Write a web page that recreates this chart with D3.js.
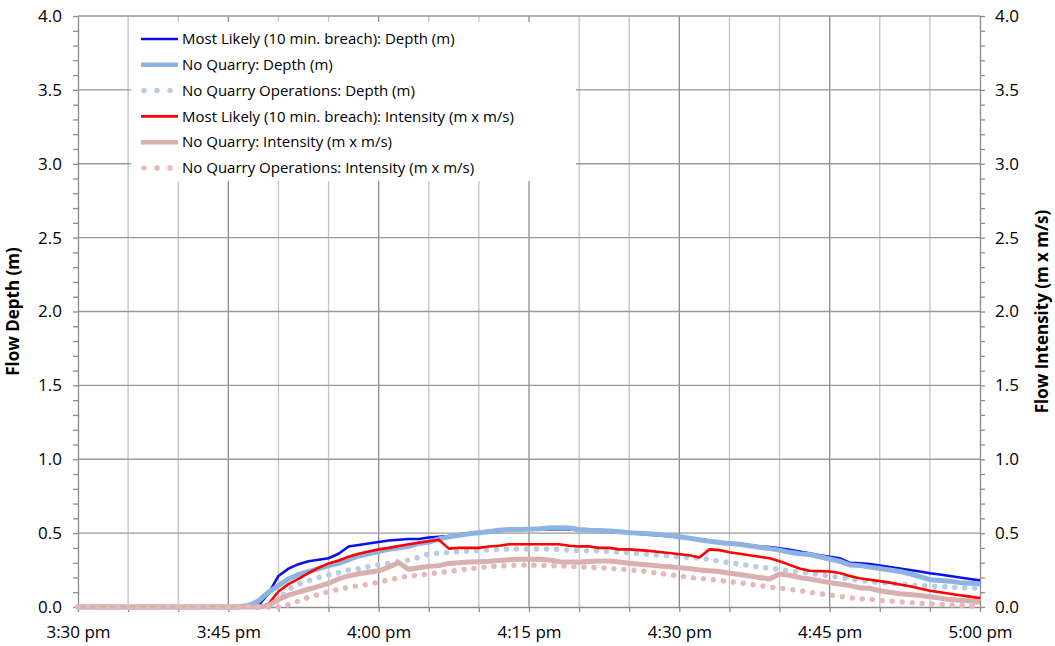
<!DOCTYPE html>
<html>
<head>
<meta charset="utf-8">
<script src="https://cdn.jsdelivr.net/npm/d3@7"></script>
<style>
  body { margin: 0; background: #fff; }
  svg text { font-family: "Open Sans", "Liberation Sans", sans-serif; fill: #000; }
  .grid line { stroke: #999; stroke-width: 1.3; }
  .vminor line { stroke: #c3c3c3; stroke-width: 1.3; }
  .vmajor line { stroke: #8c8c8c; stroke-width: 1.3; }
  .axis path, .axis line { stroke: #8c8c8c; stroke-width: 1.3; }
  .series { fill: none; stroke-linejoin: round; }
</style>
</head>
<body>
<div id="chart"></div>
<script>
// one value per minute, 3:30 pm (index 0) to 5:00 pm (index 90)
var mlDepth = [0,0,0,0,0,0,0,0,0,0, 0,0,0,0,0,0,0,0,0.01,0.09,
  0.21,0.26,0.29,0.31,0.32,0.33,0.36,0.41,0.42,0.43,
  0.44,0.45,0.455,0.46,0.46,0.47,0.475,0.48,0.49,0.50,
  0.505,0.515,0.52,0.525,0.525,0.525,0.525,0.525,0.525,0.525,
  0.52,0.52,0.515,0.51,0.505,0.50,0.495,0.49,0.485,0.48,
  0.475,0.465,0.46,0.45,0.44,0.435,0.43,0.42,0.41,0.405,
  0.397,0.387,0.375,0.363,0.35,0.34,0.33,0.30,0.295,0.29,
  0.28,0.27,0.26,0.25,0.24,0.228,0.22,0.21,0.20,0.19,0.18];
var nqDepth = [0,0,0,0,0,0,0,0,0,0, 0,0,0,0,0,0,0,0.01,0.04,0.10,
  0.145,0.19,0.22,0.24,0.26,0.28,0.295,0.32,0.345,0.36,
  0.375,0.39,0.40,0.41,0.43,0.44,0.46,0.475,0.485,0.495,
  0.503,0.51,0.52,0.525,0.525,0.527,0.53,0.535,0.537,0.535,
  0.525,0.52,0.518,0.515,0.51,0.503,0.50,0.495,0.49,0.483,
  0.475,0.465,0.455,0.445,0.437,0.43,0.425,0.415,0.405,0.395,
  0.385,0.37,0.36,0.355,0.34,0.325,0.31,0.285,0.28,0.27,
  0.26,0.25,0.24,0.225,0.205,0.185,0.18,0.175,0.165,0.16,0.155];
var nqoDepth = [0,0,0,0,0,0,0,0,0,0, 0,0,0,0,0,0,0,0,0,0,
  0.05,0.12,0.155,0.178,0.20,0.217,0.232,0.25,0.26,0.273,
  0.285,0.296,0.307,0.318,0.336,0.359,0.365,0.37,0.374,0.378,
  0.382,0.386,0.39,0.393,0.393,0.393,0.393,0.393,0.39,0.385,
  0.383,0.381,0.38,0.375,0.37,0.368,0.36,0.355,0.35,0.345,
  0.34,0.335,0.33,0.323,0.31,0.30,0.29,0.28,0.27,0.262,
  0.255,0.245,0.238,0.23,0.22,0.21,0.201,0.19,0.18,0.172,
  0.165,0.16,0.155,0.15,0.145,0.142,0.138,0.135,0.133,0.13,0.127];
var mlInt = [0,0,0,0,0,0,0,0,0,0, 0,0,0,0,0,0,0,0,0,0.02,
  0.105,0.155,0.19,0.23,0.265,0.295,0.315,0.34,0.36,0.375,
  0.39,0.40,0.413,0.425,0.435,0.445,0.455,0.395,0.40,0.40,
  0.40,0.41,0.415,0.425,0.425,0.425,0.425,0.425,0.425,0.415,
  0.41,0.41,0.40,0.40,0.39,0.39,0.385,0.38,0.372,0.365,
  0.357,0.35,0.335,0.39,0.385,0.37,0.36,0.35,0.34,0.33,
  0.31,0.285,0.26,0.245,0.243,0.24,0.23,0.21,0.195,0.185,
  0.175,0.165,0.152,0.14,0.125,0.11,0.10,0.09,0.08,0.07,0.06];
var nqInt = [0,0,0,0,0,0,0,0,0,0, 0,0,0,0,0,0,0,0,0,0.01,
  0.05,0.08,0.10,0.12,0.14,0.16,0.19,0.21,0.225,0.235,
  0.245,0.27,0.30,0.255,0.265,0.275,0.28,0.295,0.30,0.305,
  0.307,0.31,0.315,0.32,0.323,0.323,0.323,0.318,0.307,0.305,
  0.304,0.308,0.311,0.311,0.305,0.296,0.29,0.285,0.278,0.272,
  0.266,0.26,0.25,0.245,0.24,0.228,0.22,0.21,0.20,0.19,
  0.223,0.215,0.20,0.19,0.178,0.165,0.156,0.145,0.13,0.127,
  0.11,0.10,0.09,0.085,0.078,0.07,0.06,0.05,0.045,0.04,0.032];
var nqoInt = [0,0,0,0,0,0,0,0,0,0, 0,0,0,0,0,0,0,0,0,0,
  0,0.015,0.04,0.066,0.085,0.104,0.12,0.133,0.145,0.154,
  0.168,0.183,0.197,0.21,0.215,0.223,0.232,0.24,0.25,0.258,
  0.265,0.273,0.277,0.28,0.284,0.284,0.283,0.28,0.28,0.276,
  0.272,0.268,0.266,0.262,0.257,0.252,0.246,0.237,0.228,0.219,
  0.21,0.20,0.193,0.187,0.18,0.172,0.165,0.155,0.145,0.135,
  0.127,0.12,0.11,0.10,0.09,0.081,0.072,0.063,0.055,0.052,
  0.045,0.04,0.035,0.03,0.025,0.022,0.018,0.014,0.01,0.008,0.007];

var seriesNames = [
  'Most Likely (10 min. breach): Depth (m)',
  'No Quarry: Depth (m)',
  'No Quarry Operations: Depth (m)',
  'Most Likely (10 min. breach): Intensity (m x m/s)',
  'No Quarry: Intensity (m x m/s)',
  'No Quarry Operations: Intensity (m x m/s)'
];
var xTickLabels = ['3:30 pm', '3:45 pm', '4:00 pm', '4:15 pm', '4:30 pm', '4:45 pm', '5:00 pm'];
var yTicks = [0, 0.5, 1, 1.5, 2, 2.5, 3, 3.5, 4];

var W = 1055, H = 646;
var margin = {top: 16, right: 75, bottom: 39, left: 78},
    width = W - margin.left - margin.right,
    height = H - margin.top - margin.bottom;

var t0 = new Date(2000, 0, 1, 15, 30), t1 = new Date(2000, 0, 1, 17, 0);
var times = d3.timeMinute.range(t0, d3.timeMinute.offset(t1, 1));

var x = d3.scaleTime().domain([t0, t1]).range([0, width]);
var y = d3.scaleLinear().domain([0, 4]).range([height, 0]);   // depth
var y2 = d3.scaleLinear().domain([0, 4]).range([height, 0]);  // intensity

var svg = d3.select('#chart').append('svg')
    .attr('width', W).attr('height', H)
  .append('g')
    .attr('transform', 'translate(' + margin.left + ',' + margin.top + ')');

// vertical grid: every 5 min light, every 15 min darker
svg.append('g').attr('class', 'vminor')
  .selectAll('line').data(d3.timeMinute.every(5).range(t0, t1).filter(function(d) { return d.getMinutes() % 15 !== 0; }))
  .enter().append('line')
  .attr('x1', function(d) { return x(d); }).attr('x2', function(d) { return x(d); })
  .attr('y1', 0).attr('y2', height);
svg.append('g').attr('class', 'vmajor')
  .selectAll('line').data(d3.timeMinute.every(15).range(d3.timeMinute.offset(t0, 15), t1))
  .enter().append('line')
  .attr('x1', function(d) { return x(d); }).attr('x2', function(d) { return x(d); })
  .attr('y1', 0).attr('y2', height);

// horizontal grid
svg.append('g').attr('class', 'grid')
  .selectAll('line').data(yTicks.slice(1))
  .enter().append('line')
  .attr('x1', 0).attr('x2', width)
  .attr('y1', function(d) { return y(d); }).attr('y2', function(d) { return y(d); });

// axes
svg.append('g').attr('class', 'axis')
  .attr('transform', 'translate(0,' + height + ')')
  .call(d3.axisBottom(x).ticks(d3.timeMinute.every(5)).tickSize(5).tickSizeOuter(0).tickFormat(''));
svg.append('g').attr('class', 'axis')
  .attr('transform', 'translate(0,' + height + ')')
  .call(d3.axisBottom(x).ticks(d3.timeMinute.every(15)).tickSize(0).tickPadding(19)
    .tickFormat(function(d, i) { return xTickLabels[i]; }))
  .call(function(g) { g.select('.domain').remove(); })
  .selectAll('text').style('font-size', '17px');

svg.append('g').attr('class', 'axis')
  .call(d3.axisLeft(y).ticks(40).tickSize(5).tickSizeOuter(0).tickFormat(''));
svg.append('g').attr('class', 'axis')
  .call(d3.axisLeft(y).tickValues(yTicks).tickSize(0).tickPadding(16).tickFormat(d3.format('.1f')))
  .call(function(g) { g.select('.domain').remove(); })
  .selectAll('text').style('font-size', '17px');

svg.append('g').attr('class', 'axis')
  .attr('transform', 'translate(' + width + ',0)')
  .call(d3.axisRight(y2).ticks(40).tickSize(5).tickSizeOuter(0).tickFormat(''));
svg.append('g').attr('class', 'axis')
  .attr('transform', 'translate(' + width + ',0)')
  .call(d3.axisRight(y2).tickValues(yTicks).tickSize(0).tickPadding(15).tickFormat(d3.format('.1f')))
  .call(function(g) { g.select('.domain').remove(); })
  .selectAll('text').style('font-size', '17px');

// axis titles
svg.append('text')
  .attr('transform', 'translate(' + (-59) + ',' + (height / 2) + ') rotate(-90)')
  .attr('text-anchor', 'middle')
  .style('font-size', '17px').style('font-weight', 'bold')
  .text('Flow Depth (m)');
svg.append('text')
  .attr('transform', 'translate(' + (width + 68) + ',' + (height / 2) + ') rotate(-90)')
  .attr('text-anchor', 'middle')
  .style('font-size', '17px').style('font-weight', 'bold')
  .text('Flow Intensity (m x m/s)');

// series
var styles = [
  {color: '#0a0ff0', w: 2.6, dash: null, scale: y},
  {color: '#8db3e2', w: 5, dash: null, scale: y},
  {color: '#b8cce4', w: 5.5, dash: '0.01 10', scale: y},
  {color: '#ff0000', w: 2.6, dash: null, scale: y2},
  {color: '#d9afaf', w: 5, dash: null, scale: y2},
  {color: '#e6b9b8', w: 5.5, dash: '0.01 10', scale: y2}
];
var allSeries = [mlDepth, nqDepth, nqoDepth, mlInt, nqInt, nqoInt];

allSeries.forEach(function(vals, i) {
  var s = styles[i];
  var line = d3.line()
    .x(function(d, j) { return x(times[j]); })
    .y(function(d) { return s.scale(d); });
  svg.append('path')
    .attr('class', 'series')
    .attr('d', line(vals))
    .attr('stroke', s.color)
    .attr('stroke-width', s.w)
    .attr('stroke-linecap', s.dash ? 'round' : 'butt')
    .attr('stroke-dasharray', s.dash);
});

// legend
var legend = svg.append('g').attr('transform', 'translate(' + (131 - margin.left) + ',' + (22 - margin.top) + ')');
legend.append('rect').attr('width', 445).attr('height', 159).attr('fill', '#fff');
seriesNames.forEach(function(name, i) {
  var s = styles[i];
  var ly = 17 + i * 25.8;
  legend.append('line')
    .attr('x1', 10).attr('x2', 47).attr('y1', ly).attr('y2', ly)
    .attr('stroke', s.color)
    .attr('stroke-width', s.dash ? 5.5 : (s.w > 3 ? 4.5 : 2.6))
    .attr('stroke-linecap', s.dash ? 'round' : 'butt')
    .attr('stroke-dasharray', s.dash ? '0.01 13' : null)
    .attr('transform', s.dash ? 'translate(3,0)' : null);
  legend.append('text')
    .attr('x', 51).attr('y', ly).attr('dy', '0.35em')
    .style('font-size', '15px')
    .text(name);
});
</script>
</body>
</html>
